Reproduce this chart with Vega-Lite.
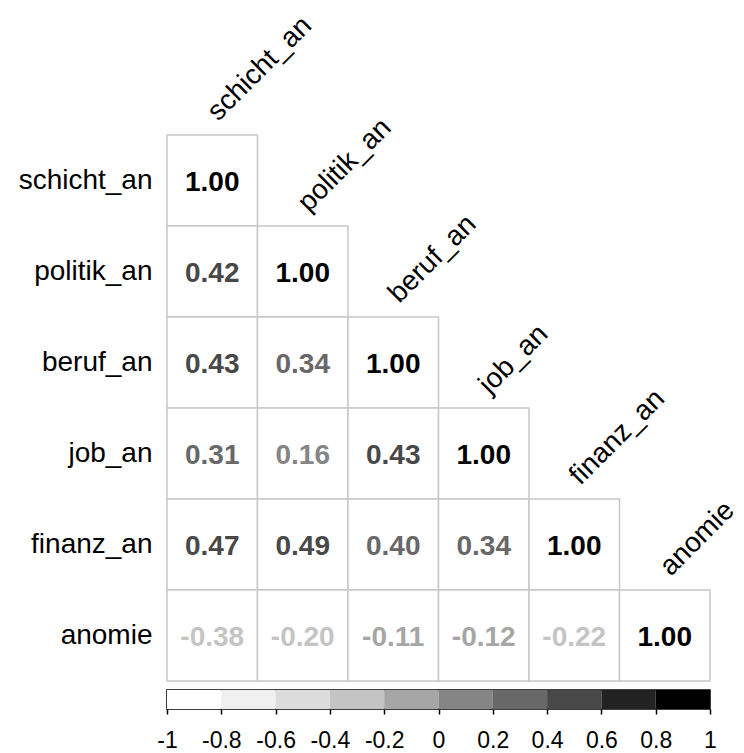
{
  "$schema": "https://vega.github.io/schema/vega-lite/v6.json",
  "padding": {"left": 18, "top": 11, "right": 5, "bottom": 5},
  "config": {
    "view": {"stroke": null},
    "font": "Liberation Sans",
    "concat": {"spacing": 7}
  },
  "vconcat": [
    {
      "width": 543,
      "height": 546,
      "data": {
        "values": [
          {"row": "schicht_an", "col": "schicht_an", "r": 1.0},
          {"row": "politik_an", "col": "schicht_an", "r": 0.42},
          {"row": "politik_an", "col": "politik_an", "r": 1.0},
          {"row": "beruf_an", "col": "schicht_an", "r": 0.43},
          {"row": "beruf_an", "col": "politik_an", "r": 0.34},
          {"row": "beruf_an", "col": "beruf_an", "r": 1.0},
          {"row": "job_an", "col": "schicht_an", "r": 0.31},
          {"row": "job_an", "col": "politik_an", "r": 0.16},
          {"row": "job_an", "col": "beruf_an", "r": 0.43},
          {"row": "job_an", "col": "job_an", "r": 1.0},
          {"row": "finanz_an", "col": "schicht_an", "r": 0.47},
          {"row": "finanz_an", "col": "politik_an", "r": 0.49},
          {"row": "finanz_an", "col": "beruf_an", "r": 0.397},
          {"row": "finanz_an", "col": "job_an", "r": 0.34},
          {"row": "finanz_an", "col": "finanz_an", "r": 1.0},
          {"row": "anomie", "col": "schicht_an", "r": -0.38},
          {"row": "anomie", "col": "politik_an", "r": -0.203},
          {"row": "anomie", "col": "beruf_an", "r": -0.11},
          {"row": "anomie", "col": "job_an", "r": -0.12},
          {"row": "anomie", "col": "finanz_an", "r": -0.22},
          {"row": "anomie", "col": "anomie", "r": 1.0}
        ]
      },
      "encoding": {
        "x": {
          "field": "col",
          "type": "nominal",
          "sort": ["schicht_an", "politik_an", "beruf_an", "job_an", "finanz_an", "anomie"],
          "scale": {"domain": ["schicht_an", "politik_an", "beruf_an", "job_an", "finanz_an", "anomie"], "paddingInner": 0, "paddingOuter": 0},
          "axis": null
        },
        "y": {
          "field": "row",
          "type": "nominal",
          "sort": ["schicht_an", "politik_an", "beruf_an", "job_an", "finanz_an", "anomie"],
          "scale": {"domain": ["schicht_an", "politik_an", "beruf_an", "job_an", "finanz_an", "anomie"], "paddingInner": 0, "paddingOuter": 0},
          "axis": {
            "title": null,
            "domain": false,
            "ticks": false,
            "labelFontSize": 28,
            "labelColor": "#000000",
            "labelFont": "Liberation Sans",
            "labelPadding": 15
          }
        }
      },
      "layer": [
        {
          "mark": {"type": "rect", "fill": "#ffffff", "stroke": "#c8c8c8", "strokeWidth": 1.5}
        },
        {
          "mark": {
            "type": "text",
            "fontSize": 28,
            "fontWeight": "bold",
            "font": "Liberation Sans",
            "baseline": "middle",
            "dy": 2,
            "text": {"expr": "replace(format(datum.r, '.2f'), '\u2212', '-')"}
          },
          "encoding": {
            "color": {
              "field": "r",
              "type": "quantitative",
              "scale": {
                "type": "threshold",
                "domain": [-0.8, -0.6, -0.4, -0.2, 0, 0.2, 0.4, 0.6, 0.8],
                "range": ["#ffffff", "#f0f0f0", "#dcdcdc", "#c4c4c4", "#a6a6a6", "#858585", "#686868", "#484848", "#222222", "#000000"]
              },
              "legend": null
            }
          }
        },
        {
          "transform": [{"filter": "datum.row === datum.col"}],
          "mark": {"type": "text", "fontSize": 28, "font": "Liberation Sans", "angle": -45, "align": "left", "baseline": "alphabetic", "xOffset": 6, "yOffset": -13, "color": "#000000"},
          "encoding": {
            "y": {"field": "row", "type": "nominal", "bandPosition": 0},
            "text": {"field": "col"}
          }
        }
      ]
    },
    {
      "width": 543,
      "height": 19,
      "view": {"stroke": "#000000", "strokeWidth": 1.5},
      "data": {
        "values": [
          {"lo": -1.0, "hi": -0.8},
          {"lo": -0.8, "hi": -0.6},
          {"lo": -0.6, "hi": -0.4},
          {"lo": -0.4, "hi": -0.2},
          {"lo": -0.2, "hi": 0.0},
          {"lo": 0.0, "hi": 0.2},
          {"lo": 0.2, "hi": 0.4},
          {"lo": 0.4, "hi": 0.6},
          {"lo": 0.6, "hi": 0.8},
          {"lo": 0.8, "hi": 1.0}
        ]
      },
      "mark": {"type": "rect"},
      "encoding": {
        "x": {
          "field": "lo",
          "type": "quantitative",
          "scale": {"domain": [-1, 1], "nice": false, "zero": false},
          "axis": {
            "title": null,
            "values": [-1, -0.8, -0.6, -0.4, -0.2, 0, 0.2, 0.4, 0.6, 0.8, 1],
            "labelExpr": "'' + datum.value",
            "grid": false,
            "domain": false,
            "ticks": true,
            "tickSize": 5,
            "tickWidth": 1.5,
            "tickColor": "#000000",
            "labelFontSize": 23,
            "labelColor": "#000000",
            "labelFont": "Liberation Sans",
            "labelPadding": 15,
            "labelOverlap": false,
            "labelFlush": false
          }
        },
        "x2": {"field": "hi"},
        "color": {
          "field": "lo",
          "type": "quantitative",
          "scale": {
            "type": "threshold",
            "domain": [-0.8, -0.6, -0.4, -0.2, 0, 0.2, 0.4, 0.6, 0.8],
            "range": ["#ffffff", "#f0f0f0", "#dcdcdc", "#c4c4c4", "#a6a6a6", "#858585", "#686868", "#484848", "#222222", "#000000"]
          },
          "legend": null
        }
      }
    }
  ]
}
